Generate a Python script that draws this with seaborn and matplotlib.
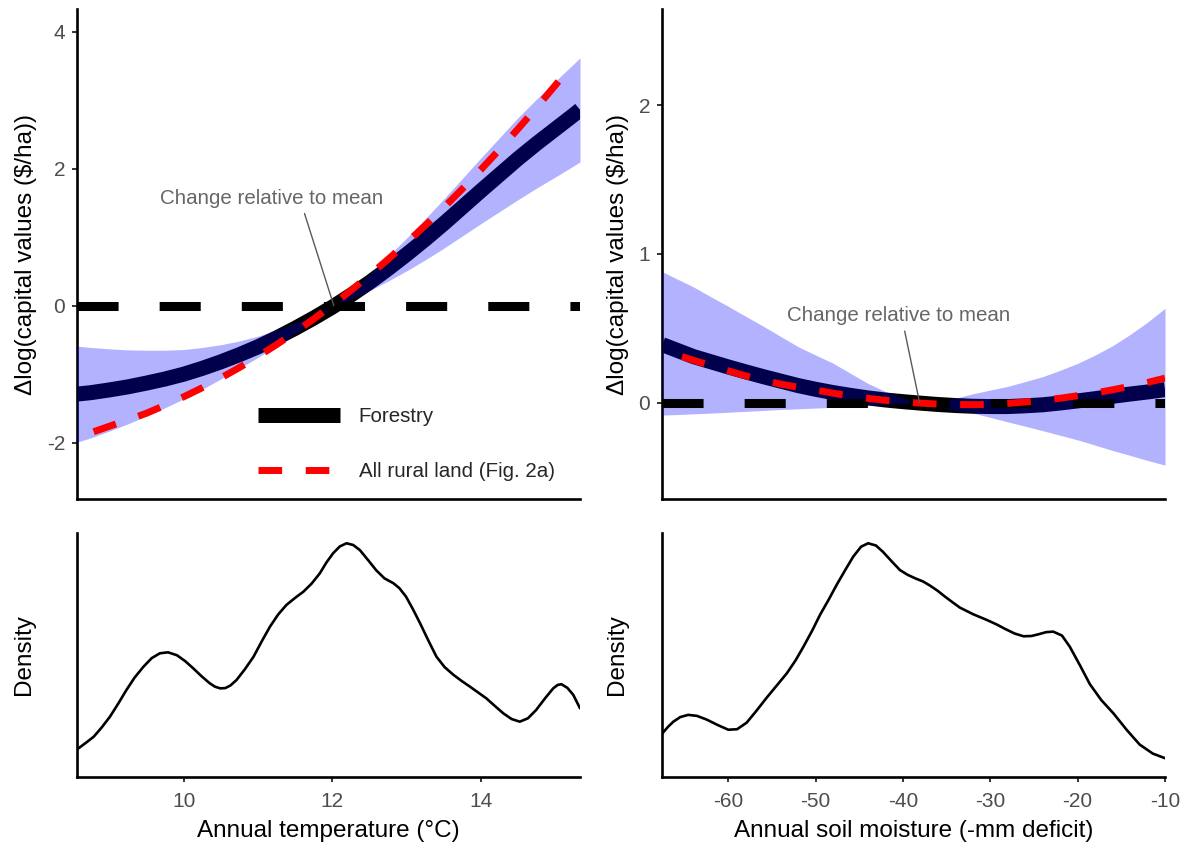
import matplotlib
matplotlib.use("Agg")
import matplotlib.pyplot as plt
from matplotlib.lines import Line2D
import seaborn as sns

# ---------------- Annual temperature response ----------------
temp_x = [8.57, 8.75, 9.0, 9.25, 9.5, 9.75, 10.0, 10.25, 10.5, 10.75, 11.0, 11.25, 11.5, 11.75,
          12.0, 12.25, 12.5, 12.75, 13.0, 13.25, 13.5, 13.75, 14.0, 14.25, 14.5, 14.75, 15.0,
          15.25, 15.33]
temp_fit = [-1.29, -1.27, -1.23, -1.185, -1.13, -1.07, -1.00, -0.915, -0.82, -0.715, -0.60, -0.47,
            -0.33, -0.18, -0.02, 0.155, 0.34, 0.54, 0.75, 0.97, 1.20, 1.44, 1.68, 1.915, 2.15,
            2.37, 2.58, 2.79, 2.86]
temp_upper = [-0.59, -0.61, -0.63, -0.645, -0.65, -0.65, -0.64, -0.61, -0.57, -0.515, -0.445,
              -0.355, -0.25, -0.135, -0.01, 0.215, 0.46, 0.72, 0.99, 1.27, 1.56, 1.86, 2.16,
              2.455, 2.75, 3.02, 3.28, 3.535, 3.62]
temp_lower = [-1.99, -1.93, -1.83, -1.725, -1.61, -1.49, -1.36, -1.22, -1.07, -0.915, -0.755,
              -0.585, -0.41, -0.225, -0.03, 0.095, 0.22, 0.36, 0.51, 0.67, 0.84, 1.02, 1.20,
              1.375, 1.55, 1.72, 1.88, 2.045, 2.10]

temp_rural_x = [8.79, 9.0, 9.25, 9.5, 9.75, 10.0, 10.25, 10.5, 10.75, 11.0, 11.25, 11.5, 11.75,
                12.0, 12.25, 12.5, 12.75, 13.0, 13.25, 13.5, 13.75, 14.0, 14.25, 14.5, 14.75,
                15.0, 15.2]
temp_rural = [-1.84, -1.76, -1.667, -1.57, -1.453, -1.33, -1.198, -1.055, -0.903, -0.74, -0.568,
              -0.385, -0.193, 0.01, 0.223, 0.445, 0.678, 0.92, 1.173, 1.435, 1.708, 1.99, 2.283,
              2.585, 2.898, 3.22, 3.49]

temp_density_x = [8.57, 8.68, 8.79, 8.90, 9.01, 9.12, 9.23, 9.34, 9.46, 9.57, 9.68, 9.79, 9.91,
                  10.02, 10.13, 10.24, 10.35, 10.42, 10.49, 10.56, 10.63, 10.71, 10.82, 10.94,
                  11.05, 11.16, 11.27, 11.38, 11.50, 11.61, 11.72, 11.83, 11.92, 12.01, 12.10,
                  12.19, 12.28, 12.37, 12.48, 12.59, 12.70, 12.82, 12.90, 12.99, 13.08, 13.18,
                  13.29, 13.40, 13.51, 13.63, 13.74, 13.85, 13.96, 14.07, 14.18, 14.30, 14.41,
                  14.52, 14.63, 14.74, 14.86, 14.97, 15.03, 15.08, 15.16, 15.24, 15.33]
temp_density = [0.113, 0.138, 0.164, 0.203, 0.247, 0.300, 0.356, 0.407, 0.452, 0.487, 0.507,
                0.511, 0.499, 0.475, 0.445, 0.413, 0.384, 0.370, 0.363, 0.364, 0.375, 0.397,
                0.440, 0.493, 0.556, 0.616, 0.666, 0.705, 0.735, 0.760, 0.793, 0.835, 0.880,
                0.918, 0.946, 0.959, 0.952, 0.931, 0.890, 0.848, 0.815, 0.795, 0.775, 0.740,
                0.690, 0.630, 0.560, 0.493, 0.450, 0.418, 0.393, 0.370, 0.346, 0.322, 0.292,
                0.260, 0.237, 0.226, 0.240, 0.274, 0.322, 0.363, 0.377, 0.380, 0.365, 0.336,
                0.281]

# ---------------- Annual soil moisture response ----------------
soil_x = [-67.56, -66, -64, -62, -60, -58, -56, -54, -52, -50, -48, -46, -44, -42, -40, -38,
          -36, -34, -32, -30, -28, -26, -24, -22, -20, -18, -16, -14, -12, -10]
soil_fit = [0.39, 0.355, 0.31, 0.275, 0.24, 0.207, 0.175, 0.145, 0.115, 0.09, 0.068, 0.049,
            0.032, 0.018, 0.007, -0.003, -0.012, -0.019, -0.024, -0.026, -0.026, -0.021,
            -0.014, -0.002, 0.012, 0.027, 0.043, 0.058, 0.072, 0.088]
soil_upper = [0.88, 0.835, 0.778, 0.712, 0.647, 0.58, 0.514, 0.445, 0.376, 0.32, 0.265, 0.197,
              0.129, 0.075, 0.03, 0.008, 0.005, 0.03, 0.06, 0.085, 0.11, 0.142, 0.175, 0.218,
              0.264, 0.32, 0.383, 0.458, 0.541, 0.634]
soil_lower = [-0.083, -0.08, -0.075, -0.07, -0.064, -0.058, -0.052, -0.046, -0.041, -0.036,
              -0.031, -0.026, -0.02, -0.012, -0.003, -0.012, -0.03, -0.05, -0.07, -0.099,
              -0.129, -0.158, -0.188, -0.219, -0.25, -0.285, -0.321, -0.354, -0.388, -0.419]

soil_rural_x = [-65.3, -64, -62, -60, -58, -56, -54, -52, -50, -48, -46, -44, -42, -40, -38,
                -36, -34, -32, -30, -28, -26, -24, -22, -20, -18, -16, -14, -12, -10]
soil_rural = [0.31, 0.285, 0.25, 0.214, 0.18, 0.151, 0.125, 0.104, 0.085, 0.064, 0.045, 0.029,
              0.016, 0.005, -0.003, -0.009, -0.012, -0.013, -0.012, -0.005, 0.005, 0.017, 0.03,
              0.047, 0.065, 0.087, 0.11, 0.136, 0.165]

soil_density_x = [-67.56, -66.9, -66.3, -65.5, -64.6, -63.6, -62.5, -61.2, -60.0, -59.0, -57.9,
                  -56.8, -55.6, -54.4, -53.3, -52.3, -51.4, -50.4, -49.5, -48.5, -47.6, -46.6,
                  -45.7, -44.8, -44.0, -43.1, -42.3, -41.3, -40.35, -39.5, -38.6, -37.7, -36.9,
                  -36.0, -35.2, -34.3, -33.5, -32.0, -30.4, -29.3, -28.3, -27.2, -26.2, -25.3,
                  -24.5, -23.6, -22.8, -21.8, -20.9, -19.7, -18.6, -17.3, -15.9, -14.4, -12.9,
                  -11.4, -10.0]
soil_density = [0.178, 0.205, 0.226, 0.245, 0.254, 0.250, 0.235, 0.212, 0.193, 0.195, 0.222,
                0.270, 0.325, 0.377, 0.425, 0.478, 0.534, 0.600, 0.665, 0.728, 0.788, 0.850,
                0.904, 0.945, 0.959, 0.950, 0.924, 0.885, 0.849, 0.830, 0.815, 0.802, 0.785,
                0.763, 0.740, 0.716, 0.695, 0.668, 0.644, 0.626, 0.607, 0.588, 0.577, 0.578,
                0.585, 0.594, 0.596, 0.580, 0.534, 0.455, 0.380, 0.315, 0.260, 0.193, 0.132,
                0.095, 0.076]

# ticks and labels
temp_xticks = [10, 12, 14]
soil_xticks = [-60, -50, -40, -30, -20, -10]
temp_yticks = [-2, 0, 2, 4]
soil_yticks = [0, 1, 2]
ylabel_top = "\u0394log(capital values ($/ha))"
ylabel_bottom = "Density"
xlabel_temp = "Annual temperature (\u00b0C)"
xlabel_soil = "Annual soil moisture (-mm deficit)"
note_text = "Change relative to mean"
legend_labels = ["Forestry", "All rural land (Fig. 2a)"]

# annotation anchors (data coordinates)
temp_mean = 12.02
soil_mean = -38.1
temp_note_xy = (11.18, 1.57)
soil_note_xy = (-40.46, 0.585)

sns.set_theme(style="ticks")
plt.rcParams["font.family"] = ["Liberation Sans", "DejaVu Sans"]
plt.rcParams["axes.unicode_minus"] = False

W, H = 1196, 848
fig = plt.figure(figsize=(W / 100, H / 100), dpi=100)


def px_axes(left, top, right, bottom):
    return fig.add_axes([left / W, 1 - bottom / H, (right - left) / W, (bottom - top) / H])


ax_tl = px_axes(77.3, 9.3, 580, 499)
ax_tr = px_axes(662.3, 9.3, 1165, 499)
ax_bl = px_axes(77.3, 533.3, 580, 776.7)
ax_br = px_axes(662.3, 533.3, 1165, 776.7)

TICK_FS = 15
TITLE_FS = 17.5
NOTE_FS = 14.8
LINE_W = 10.8
RED_W = 5.0
REF_W = 6.5


def style_axes(ax):
    for side in ["top", "right"]:
        ax.spines[side].set_visible(False)
    for side in ["left", "bottom"]:
        ax.spines[side].set_linewidth(1.9)
        ax.spines[side].set_color("black")
    ax.tick_params(axis="both", length=3.8, width=1.4, color="#333333",
                   labelsize=TICK_FS, labelcolor="#4D4D4D")
    ax.tick_params(axis="y", pad=5.0)
    ax.tick_params(axis="x", pad=7.0)
    ax.set_facecolor("white")


def response_panel(ax, x, fit, lower, upper, rx, ry, xlim, ylim, yticks, mean, note_xy, relx):
    # fitted curve underneath a translucent confidence ribbon
    sns.lineplot(x=x, y=fit, ax=ax, color="black", linewidth=LINE_W,
                 solid_capstyle="butt", solid_joinstyle="round", sort=False, zorder=2)
    ax.fill_between(x, lower, upper, color="blue", alpha=0.3, linewidth=0, zorder=3)
    ax.axhline(0, color="black", linewidth=REF_W, linestyle=(0, (4.55, 4.55)), zorder=4)
    sns.lineplot(x=rx, y=ry, ax=ax, color="red", linewidth=RED_W,
                 linestyle=(0, (3.4, 3.4)), sort=False, zorder=5)
    ax.annotate(note_text, xy=(mean, 0), xytext=note_xy, ha="center", va="center",
                fontsize=NOTE_FS, color="#666666", zorder=6,
                arrowprops=dict(arrowstyle="-", color="#595959", lw=1.0,
                                relpos=(relx, 0.0), shrinkA=2, shrinkB=0))
    ax.set_xlim(*xlim)
    ax.set_ylim(*ylim)
    ax.set_yticks(yticks)
    ax.set_yticklabels([str(v) for v in yticks])
    ax.set_xticks([])
    ax.set_xlabel("")
    ax.set_ylabel(ylabel_top, fontsize=TITLE_FS, color="black")
    style_axes(ax)
    ax.tick_params(axis="x", length=0)


def density_panel(ax, x, d, xlim, xticks, xlabel):
    sns.lineplot(x=x, y=d, ax=ax, color="black", linewidth=1.9,
                 solid_joinstyle="round", sort=False)
    ax.set_xlim(*xlim)
    ax.set_ylim(0, 1.0)
    ax.set_yticks([])
    ax.set_xticks(xticks)
    ax.set_xticklabels([str(v) for v in xticks])
    ax.set_xlabel(xlabel, fontsize=TITLE_FS, color="black")
    ax.set_ylabel(ylabel_bottom, fontsize=TITLE_FS, color="black")
    style_axes(ax)


response_panel(ax_tl, temp_x, temp_fit, temp_lower, temp_upper, temp_rural_x, temp_rural,
               (8.57, 15.33), (-2.822, 4.327), temp_yticks, temp_mean, temp_note_xy, 0.64)
response_panel(ax_tr, soil_x, soil_fit, soil_lower, soil_upper, soil_rural_x, soil_rural,
               (-67.56, -10), (-0.647, 2.643), soil_yticks, soil_mean, soil_note_xy, 0.52)
density_panel(ax_bl, temp_density_x, temp_density, (8.57, 15.33), temp_xticks, xlabel_temp)
density_panel(ax_br, soil_density_x, soil_density, (-67.56, -10), soil_xticks, xlabel_soil)

# legend inside the temperature panel
handles = [
    Line2D([], [], color="black", linewidth=LINE_W, solid_capstyle="butt"),
    Line2D([], [], color="red", linewidth=RED_W, linestyle=(0, (3.4, 3.4))),
]
ax_tl.legend(handles, legend_labels, loc="upper left", bbox_to_anchor=(0.3595, 0.187),
             frameon=False, fontsize=NOTE_FS, handlelength=4.0, handletextpad=0.9,
             labelspacing=1.75, borderpad=0, borderaxespad=0)

# axis-title placement
ax_tl.yaxis.set_label_coords(-0.081, 0.5)
ax_tr.yaxis.set_label_coords(-0.067, 0.5)
ax_bl.yaxis.set_label_coords(-0.085, 0.5)
ax_br.yaxis.set_label_coords(-0.069, 0.5)
ax_bl.xaxis.set_label_coords(0.5, -0.176)
ax_br.xaxis.set_label_coords(0.5, -0.176)

fig.savefig("out.png", dpi=100, facecolor="white")
